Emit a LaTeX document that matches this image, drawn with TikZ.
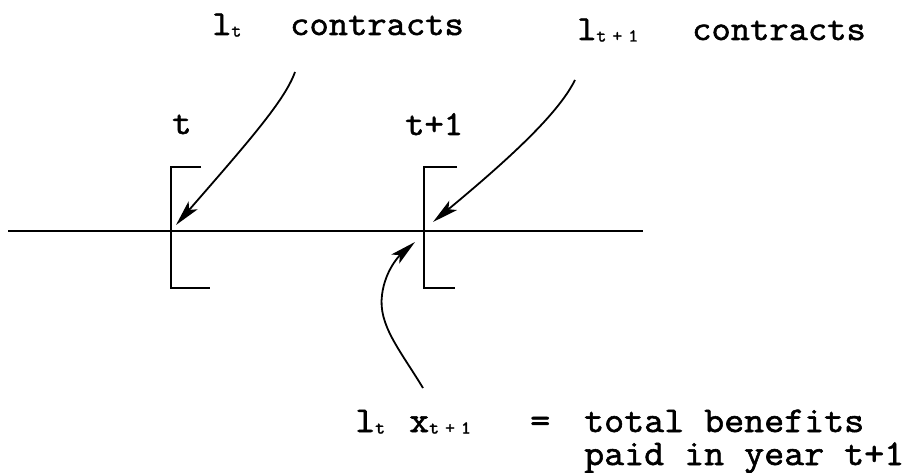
\documentclass[tikz,border=0pt]{standalone}
\usepackage{fontspec}
\newfontfamily\tw{Latin Modern Mono}[FakeBold=1.6,FakeStretch=1.07]
\usetikzlibrary{arrows.meta}
\newcommand\subs[1]{\raisebox{-1.5pt}{\fontsize{18}{18}\selectfont #1}}
\newcommand\subtpo{\subs{t}\hspace{6pt}\subs{+}\hspace{6pt}\subs{1}}
\tikzset{
  lbl/.style={anchor=base west, inner sep=0pt, font=\tw\fontsize{35}{35}\selectfont},
  lblb/.style={anchor=base west, inner sep=0pt, font=\tw\fontsize{36.3}{38}\selectfont},
  axis/.style={line width=1.6pt, black},
  ptr/.style={line width=1.8pt, black, -{Stealth[length=26pt,width=12pt,inset=6pt]}},
}
\begin{document}
\begin{tikzpicture}[x=1pt,y=-1pt]
\useasboundingbox (0,0) rectangle (913,473);
% time axis
\coordinate (axL) at (8,231);
\coordinate (axR) at (643,231);
\draw[axis] (axL) -- (axR);
% brackets
\coordinate (b1a) at (201,167); \coordinate (b1b) at (171,167);
\coordinate (b1c) at (171,288); \coordinate (b1d) at (210,288);
\draw[axis] (b1a) -- (b1b) -- (b1c) -- (b1d);
\coordinate (b2a) at (457,167); \coordinate (b2b) at (424,167);
\coordinate (b2c) at (424,288); \coordinate (b2d) at (455,288);
\draw[axis] (b2a) -- (b2b) -- (b2c) -- (b2d);
% labels
\node[lbl] (t) at (172,134) {t};
\node[lbl] (t1) at (405,135) {t+1};
\node[lbl] (h1l) at (212,35) {l\subs{t}};
\node[lbl] (h1c) at (290,35) {contracts};
\node[lbl] (h2l) at (577,40) {l\subtpo};
\node[lbl] (h2c) at (692,40) {contracts};
\node[lblb] (bl) at (355,432) {l\subs{t}};
\node[lblb] (bx) at (409,432) {x\subtpo};
\node[lblb] (beq) at (530,432) {=};
\node[lblb] (btot) at (584,432) {total benefits};
\node[lblb] (bpaid) at (584,465) {paid in year t+1};
% arrows
\coordinate (a1s) at (295,72); \coordinate (a1e) at (176,225);
\draw[ptr] (a1s) .. controls (285,100) and (250,140) .. (a1e);
\coordinate (a2s) at (575,80); \coordinate (a2e) at (433,222);
\draw[ptr] (a2s) .. controls (560,110) and (520,150) .. (a2e);
\coordinate (a3s) at (423,388); \coordinate (a3m) at (382,295); \coordinate (a3e) at (415,242);
\draw[ptr] (a3s) .. controls (400,350) and (378,325) .. (a3m) .. controls (385,270) and (400,255) .. (a3e);
\end{tikzpicture}
\end{document}
